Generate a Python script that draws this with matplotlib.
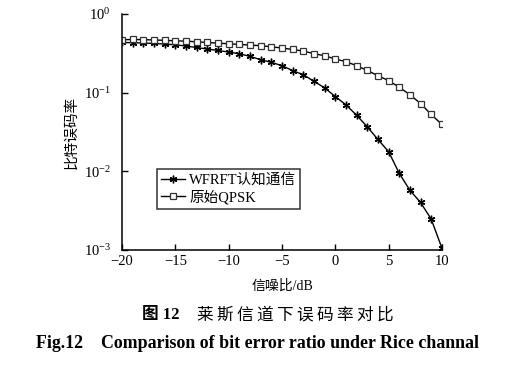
import numpy as np
import matplotlib.pyplot as plt
import matplotlib as mpl
from matplotlib.ticker import LogLocator, LogFormatterMathtext, NullLocator

mpl.rcParams['font.family'] = ['Liberation Serif', 'Noto Sans CJK SC']
mpl.rcParams['mathtext.fontset'] = 'stix'
mpl.rcParams['axes.unicode_minus'] = True

# 数据 (信噪比 dB)
snr = list(range(-20, 11))
ber_wfrft = [0.433, 0.430, 0.426, 0.421, 0.413, 0.405, 0.390, 0.374, 0.357, 0.343,
             0.327, 0.312, 0.288, 0.262, 0.242, 0.220, 0.190, 0.169, 0.139, 0.115,
             0.089, 0.0699, 0.0516, 0.0368, 0.0254, 0.0178, 0.00944, 0.00574, 0.00402,
             0.00247, 0.00106]
ber_qpsk = [0.469, 0.473, 0.470, 0.466, 0.461, 0.455, 0.450, 0.442, 0.433, 0.425,
            0.417, 0.409, 0.401, 0.394, 0.382, 0.368, 0.353, 0.337, 0.312, 0.294,
            0.267, 0.247, 0.220, 0.191, 0.164, 0.142, 0.117, 0.094, 0.0726,
            0.0527, 0.0394]
labels = [u'WFRFT认知通信', u'原始QPSK']

fig = plt.figure(figsize=(5.15, 3.65), dpi=100, facecolor='w')
ax = fig.add_axes([0.237, 0.315, 0.621, 0.647])

ax.semilogy(snr, ber_wfrft, 'k-', lw=1, marker=(6, 2, 0), ms=5.5, mew=1, label=labels[0])
ax.semilogy(snr, ber_qpsk, 'k-', lw=1, marker='s', ms=3.8, mfc='w', mec='#333333',
            mew=0.9, label=labels[1])

ax.set_xlim(-20, 10)
ax.set_ylim(1e-3, 1)
ax.set_xticks(range(-20, 11, 5))
ax.yaxis.set_major_locator(LogLocator(base=10, numticks=10))
ax.yaxis.set_major_formatter(LogFormatterMathtext())
ax.yaxis.set_minor_locator(NullLocator())
ax.tick_params(direction='in', length=4, width=1, labelsize=10.5)
ax.tick_params(axis='y', labelsize=10.5, pad=8)
for s in ['top', 'right']:
    ax.spines[s].set_visible(False)
for s in ['left', 'bottom']:
    ax.spines[s].set_linewidth(1.1)

ax.set_ylabel(u'比特误码率', family=['Noto Sans CJK SC'], fontsize=10.5, labelpad=4)
ax.set_xlabel(u'信噪比/dB', family=['Liberation Serif', 'Noto Sans CJK SC'], fontsize=10, labelpad=8)

leg = ax.legend(loc='upper left', bbox_to_anchor=(0.109, 0.343), fontsize=10.5,
                frameon=True, fancybox=False, edgecolor='k', handlelength=1.6,
                handletextpad=0.3, borderpad=0.3, labelspacing=0.2, borderaxespad=0)
leg.get_frame().set_linewidth(1.1)

# 图题
fig.text(0.276, 0.137, u'图 12', ha='left', va='center', fontsize=12,
         family=['Liberation Serif', 'Noto Sans CJK SC'], weight='bold')
fig.text(0.383, 0.137, '\u2009'.join(u'莱斯信道下误码率对比'), ha='left', va='center',
         fontsize=12, family=['Noto Sans CJK SC', 'DejaVu Sans'])
fig.text(0.5, 0.06, 'Fig.12    Comparison of bit error ratio under Rice channal',
         ha='center', va='center', fontsize=12.9, family='Liberation Serif', weight='bold')

fig.savefig('out.png', dpi=100)
